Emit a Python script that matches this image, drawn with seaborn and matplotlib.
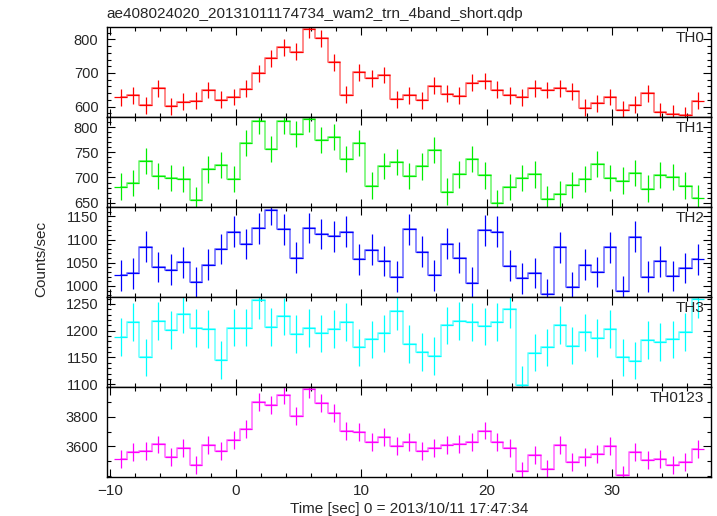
import matplotlib
matplotlib.use("Agg")
import matplotlib.pyplot as plt
import numpy as np
import pandas as pd
import seaborn as sns
from matplotlib.ticker import MultipleLocator, FixedLocator

# bin centres (1 s bins), time relative to 2013/10/11 17:47:34
t_start = -9.17
n_bins = 47

th0 = [627, 633, 604, 654, 601, 614, 617, 649, 620, 628, 653, 699, 744, 776, 763, 830,
       803, 732, 635, 702, 684, 694, 622, 633, 618, 662, 638, 632, 671, 676, 650, 633,
       627, 654, 649, 654, 645, 597, 610, 628, 590, 605, 639, 585, 578, 575, 617]
th1 = [682, 689, 732, 703, 699, 697, 656, 716, 724, 697, 768, 812, 757, 812, 786, 816,
       775, 781, 736, 769, 684, 723, 731, 703, 722, 754, 672, 706, 736, 704, 650, 681,
       699, 706, 658, 668, 685, 697, 726, 699, 694, 709, 678, 705, 701, 684, 659]
th2 = [1023, 1027, 1085, 1041, 1035, 1051, 1008, 1046, 1080, 1117, 1090, 1124, 1164, 1122,
       1061, 1125, 1112, 1107, 1117, 1057, 1078, 1054, 1020, 1122, 1074, 1023, 1091, 1061,
       1007, 1120, 1117, 1044, 1016, 1028, 982, 1083, 998, 1046, 1030, 1083, 988, 1106,
       1020, 1053, 1021, 1039, 1057]
th3 = [1188, 1216, 1150, 1218, 1201, 1231, 1205, 1203, 1145, 1206, 1206, 1257, 1207, 1227,
       1194, 1205, 1195, 1203, 1216, 1169, 1184, 1195, 1236, 1175, 1160, 1153, 1210, 1218,
       1216, 1208, 1216, 1240, 1099, 1159, 1169, 1211, 1172, 1197, 1186, 1203, 1150, 1144,
       1183, 1179, 1184, 1198, 1259]
th0123 = [3513, 3562, 3569, 3613, 3529, 3589, 3476, 3611, 3567, 3644, 3718, 3898, 3878, 3944,
          3807, 3984, 3891, 3822, 3702, 3696, 3627, 3665, 3604, 3631, 3571, 3589, 3607, 3616,
          3627, 3707, 3631, 3591, 3438, 3542, 3449, 3611, 3493, 3531, 3549, 3604, 3409, 3560,
          3511, 3518, 3478, 3493, 3584]

names = ["TH0", "TH1", "TH2", "TH3", "TH0123"]
series = [th0, th1, th2, th3, th0123]
errors = [25, 26, 33, 35, 60]
colors = ["#ff0000", "#00ee00", "#0000ff", "#00ffff", "#ff00ff"]
ylims = [(568, 836), (641, 820), (976, 1170), (1095, 1263), (3396, 4000)]
yticks = [[600, 700, 800], [650, 700, 750, 800], [1000, 1050, 1100, 1150],
          [1100, 1150, 1200, 1250], [3600, 3800]]
minors = [20, 10, 10, 10, 100]

sns.set_style("ticks")
plt.rcParams["font.family"] = ["Liberation Sans", "DejaVu Sans"]
plt.rcParams["font.size"] = 11

t = t_start + np.arange(n_bins)

fig, axes = plt.subplots(5, 1, figsize=(7.17, 5.16), dpi=100, sharex=True)
fig.subplots_adjust(left=0.149, right=0.992, top=0.947, bottom=0.076, hspace=0)

for ax, name, vals, err, col, yl, tk, mn in zip(axes, names, series, errors, colors,
                                                 ylims, yticks, minors):
    df = pd.DataFrame({"time": t, "rate": vals})
    sns.lineplot(data=df, x="time", y="rate", ax=ax, color=col, alpha=0.5, lw=1.3,
                 drawstyle="steps-mid")
    ax.errorbar(df["time"], df["rate"], xerr=0.5, yerr=err, fmt="none", ecolor=col,
                elinewidth=0.9, capsize=0)
    ax.set_ylim(*yl)
    ax.yaxis.set_major_locator(FixedLocator(tk))
    ax.yaxis.set_minor_locator(MultipleLocator(mn))
    ax.set_ylabel("")
    ax.set_xlabel("")
    ax.text(0.988, 0.955, name, transform=ax.transAxes, ha="right", va="top", fontsize=11)
    ax.tick_params(which="both", direction="in", top=True, right=True, labelsize=10.5,
                   color="black")
    ax.tick_params(axis="y", which="major", pad=6)
    ax.tick_params(which="major", length=6, width=0.8)
    ax.tick_params(which="minor", length=3, width=0.8)
    for sp in ax.spines.values():
        sp.set_linewidth(1.0)
        sp.set_color("black")

axes[-1].set_xlim(-10.27, 37.9)
axes[-1].xaxis.set_major_locator(MultipleLocator(10))
axes[-1].xaxis.set_minor_locator(MultipleLocator(2))
axes[-1].tick_params(axis="x", which="major", pad=5, labelsize=11)
axes[-1].set_xlabel("Time [sec] 0 = 2013/10/11 17:47:34", fontsize=11, labelpad=3)

fig.text(0.057, 0.498, "Counts/sec", rotation=90, ha="center", va="center", fontsize=11)
fig.text(0.148, 0.972, "ae408024020_20131011174734_wam2_trn_4band_short.qdp",
         ha="left", va="center", fontsize=11)

fig.savefig("out.png", dpi=100)
